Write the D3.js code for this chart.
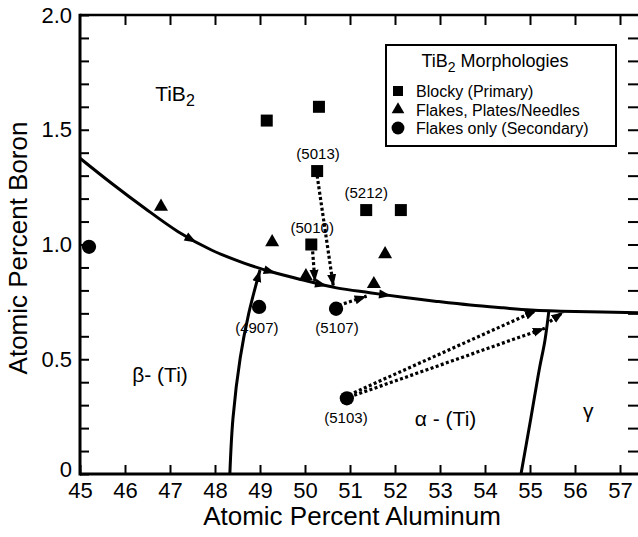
<!DOCTYPE html>
<html><head><meta charset="utf-8">
<script src="https://cdn.jsdelivr.net/npm/d3@7"></script>
<style>
body{margin:0;background:#fff}
svg{display:block}
text{font-family:"Liberation Sans",Arial,Helvetica,sans-serif;fill:#000}
</style>
</head><body>
<svg id="chart" width="638" height="537"></svg>
<script>
// ---------- data ----------
const xTicks = d3.range(45, 58);
const yMajorTicks = [0, 0.5, 1.0, 1.5, 2.0];
const yTickLabels = ["0", "0.5", "1.0", "1.5", "2.0"];
const yMinorTicks = d3.range(1, 20).map(i => i / 10);

const blocky = [[49.15, 1.54], [50.31, 1.60], [50.27, 1.32], [50.14, 1.00], [51.36, 1.15], [52.13, 1.15]];
const flakesPlates = [[46.8, 1.165], [49.27, 1.01], [50.02, 0.862], [51.78, 0.958], [51.53, 0.828]];
const flakesOnly = [[45.2, 0.99], [48.98, 0.728], [50.69, 0.72], [50.93, 0.33]];

const liquidus = [[45.0, 1.376], [45.70, 1.267], [46.44, 1.158], [47.18, 1.056], [47.92, 0.976], [48.66, 0.918],
  [49.25, 0.881], [49.96, 0.845], [50.70, 0.811], [51.44, 0.790], [52.18, 0.770], [52.93, 0.752],
  [53.67, 0.736], [54.40, 0.724], [55.02, 0.715], [56.0, 0.708], [57.4, 0.703]];
const betaAlpha = [[48.33, 0], [48.40, 0.244], [48.56, 0.505], [48.75, 0.70], [49.0, 0.889]];
const alphaGamma = [[54.8, 0], [55.02, 0.244], [55.21, 0.46], [55.33, 0.58], [55.42, 0.712]];
const liquidusArrowX = [47.47, 49.22, 50.36, 51.78];

const dottedArrows = [
  [[50.27, 1.30], [50.63, 0.818]],
  [[50.17, 0.97], [50.22, 0.838]],
  [[50.75, 0.735], [51.37, 0.775]],
  [[50.98, 0.345], [55.15, 0.713]],
  [[50.98, 0.335], [55.33, 0.635]],
  [[55.44, 0.664], [55.74, 0.705]]
];

const sampleLabels = ["(5013)", "(5010)", "(5212)", "(4907)", "(5107)", "(5103)"];
const sampleLabelPos = [[50.29, 1.373], [50.16, 1.05], [51.36, 1.203], [48.93, 0.614], [50.71, 0.614], [50.91, 0.222]];

const legendTitle = "Morphologies";
const legendItems = ["Blocky (Primary)", "Flakes, Plates/Needles", "Flakes only (Secondary)"];

// ---------- scales ----------
const svg = d3.select("#chart");
const x = d3.scaleLinear().domain([45, 57.4]).range([80, 638]);
const y = d3.scaleLinear().domain([0, 2]).range([474, 15]);

// ---------- markers ----------
const defs = svg.append("defs");
defs.append("marker").attr("id", "arrSolid").attr("markerUnits", "userSpaceOnUse")
  .attr("viewBox", "0 -5 12 10").attr("refX", 12).attr("refY", 0)
  .attr("markerWidth", 12).attr("markerHeight", 10).attr("orient", "auto")
  .append("path").attr("d", "M0,-4.5L12,0L0,4.5Z").attr("fill", "#000");
defs.append("marker").attr("id", "arrDot").attr("markerUnits", "userSpaceOnUse")
  .attr("viewBox", "0 -5 12 10").attr("refX", 12).attr("refY", 0)
  .attr("markerWidth", 12).attr("markerHeight", 10).attr("orient", "auto")
  .append("path").attr("d", "M0,-4.5L12,0L0,4.5Z").attr("fill", "#000");

// ---------- axes ----------
const axisG = svg.append("g");
const gBottom = axisG.append("g").attr("transform", `translate(0,${y(0)})`)
  .call(d3.axisBottom(x).tickValues(xTicks).tickSize(-9).tickPadding(8).tickFormat(d3.format("d")));
const gTop = axisG.append("g").attr("transform", `translate(0,${y(2)})`)
  .call(d3.axisTop(x).tickValues(xTicks.slice(1)).tickSize(-10).tickFormat(""));
const gLeft = axisG.append("g").attr("transform", `translate(${x(45)},0)`)
  .call(d3.axisLeft(y).tickValues(yMajorTicks).tickSize(-9).tickPadding(8)
    .tickFormat((d, i) => yTickLabels[i]));
const gLeftMinor = axisG.append("g").attr("transform", `translate(${x(45)},0)`)
  .call(d3.axisLeft(y).tickValues(yMinorTicks.filter(v => Math.abs(v * 2 - Math.round(v * 2)) > 1e-6))
    .tickSize(-9).tickFormat(""));
const gRight = axisG.append("g").attr("transform", `translate(${x(57.4)},0)`)
  .call(d3.axisRight(y).tickValues(yMinorTicks).tickSize(-10).tickFormat(""));
[gBottom, gTop, gLeft, gLeftMinor, gRight].forEach(g => {
  g.selectAll(".domain").remove();
  g.selectAll(".tick line").attr("stroke", "#000").attr("stroke-width", 2);
  g.selectAll("text").style("font-size", "22px").attr("fill", "#000");
});
// lift the "0" label slightly, as in the reference
gLeft.selectAll(".tick text").filter(d => d === 0).attr("dy", "0.1em");
// frame lines
axisG.append("line").attr("x1", x(45)).attr("x2", x(57.4)).attr("y1", y(0)).attr("y2", y(0))
  .attr("stroke", "#000").attr("stroke-width", 3);
axisG.append("line").attr("x1", x(45)).attr("x2", x(57.4)).attr("y1", y(2)).attr("y2", y(2))
  .attr("stroke", "#000").attr("stroke-width", 2.5);
axisG.append("line").attr("x1", x(45)).attr("x2", x(45)).attr("y1", y(0) + 1.5).attr("y2", y(2) - 1.2)
  .attr("stroke", "#000").attr("stroke-width", 3);

// axis titles
svg.append("text").attr("x", 352).attr("y", 525).attr("text-anchor", "middle")
  .style("font-size", "26px").text("Atomic Percent Aluminum");
svg.append("text").attr("transform", "translate(27,248) rotate(-90)").attr("text-anchor", "middle")
  .style("font-size", "26px").text("Atomic Percent Boron");

// ---------- phase boundaries ----------
const line = d3.line().x(d => x(d[0])).y(d => y(d[1])).curve(d3.curveCatmullRom.alpha(0.5));
const liqPath = svg.append("path").attr("d", line(liquidus)).attr("fill", "none")
  .attr("stroke", "#000").attr("stroke-width", 3);
svg.append("path").attr("d", line(betaAlpha)).attr("fill", "none")
  .attr("stroke", "#000").attr("stroke-width", 3).attr("marker-end", "url(#arrSolid)");
svg.append("path").attr("d", line(alphaGamma)).attr("fill", "none")
  .attr("stroke", "#000").attr("stroke-width", 3);

// arrowheads along liquidus
const node = liqPath.node();
const total = node.getTotalLength();
function lengthAtX(px) {
  let lo = 0, hi = total;
  for (let k = 0; k < 40; k++) {
    const mid = (lo + hi) / 2;
    if (node.getPointAtLength(mid).x < px) lo = mid; else hi = mid;
  }
  return (lo + hi) / 2;
}
liquidusArrowX.forEach(ax => {
  const L = lengthAtX(x(ax));
  const p = node.getPointAtLength(L);
  const p1 = node.getPointAtLength(Math.max(0, L - 2));
  const p2 = node.getPointAtLength(Math.min(total, L + 2));
  const ang = Math.atan2(p2.y - p1.y, p2.x - p1.x) * 180 / Math.PI;
  svg.append("path").attr("d", "M6,0L-6,-4.5L-6,4.5Z").attr("fill", "#000")
    .attr("transform", `translate(${p.x},${p.y}) rotate(${ang})`);
});

// ---------- dotted arrows ----------
dottedArrows.forEach(a => {
  svg.append("line").attr("x1", x(a[0][0])).attr("y1", y(a[0][1]))
    .attr("x2", x(a[1][0])).attr("y2", y(a[1][1]))
    .attr("stroke", "#000").attr("stroke-width", 3.2).attr("stroke-dasharray", "3,2.4")
    .attr("marker-end", "url(#arrDot)");
});

// ---------- points ----------
const sq = d3.symbol().type(d3.symbolSquare).size(144);
const tri = d3.symbol().type(d3.symbolTriangle).size(85);
const cir = d3.symbol().type(d3.symbolCircle).size(160);
svg.append("g").selectAll("path").data(blocky).join("path")
  .attr("d", sq).attr("transform", d => `translate(${x(d[0])},${y(d[1])})`).attr("fill", "#000");
svg.append("g").selectAll("path").data(flakesPlates).join("path")
  .attr("d", tri).attr("transform", d => `translate(${x(d[0])},${y(d[1])})`).attr("fill", "#000");
svg.append("g").selectAll("path").data(flakesOnly).join("path")
  .attr("d", cir).attr("transform", d => `translate(${x(d[0])},${y(d[1])})`).attr("fill", "#000");

// sample labels
svg.append("g").selectAll("text").data(sampleLabels).join("text")
  .attr("x", (d, i) => x(sampleLabelPos[i][0])).attr("y", (d, i) => y(sampleLabelPos[i][1]))
  .attr("text-anchor", "middle").style("font-size", "15px").text(d => d);

// region labels
const tib = svg.append("text").attr("x", x(46.67)).attr("y", y(1.625)).style("font-size", "21px");
tib.append("tspan").text("TiB");
tib.append("tspan").attr("dy", 5).style("font-size", "16px").text("2");
svg.append("text").attr("x", x(46.16)).attr("y", y(0.40)).style("font-size", "21px").text("β- (Ti)");
svg.append("text").attr("x", x(52.44)).attr("y", y(0.209)).style("font-size", "21px").text("α - (Ti)");
svg.append("text").attr("x", x(56.18)).attr("y", y(0.244)).style("font-size", "21px").text("γ");

// ---------- legend ----------
const lg = svg.append("g");
lg.append("rect").attr("x", 386).attr("y", 45).attr("width", 230).attr("height", 101)
  .attr("fill", "#fff").attr("stroke", "#000").attr("stroke-width", 2);
const lt = lg.append("text").attr("x", 495).attr("y", 67).attr("text-anchor", "middle").style("font-size", "18px");
lt.append("tspan").text("TiB");
lt.append("tspan").attr("dy", 5).style("font-size", "14px").text("2");
lt.append("tspan").attr("dy", -5).text(" " + legendTitle);
const legSyms = [d3.symbol().type(d3.symbolSquare).size(100), d3.symbol().type(d3.symbolTriangle).size(70), d3.symbol().type(d3.symbolCircle).size(130)];
legendItems.forEach((t, i) => {
  lg.append("path").attr("d", legSyms[i]).attr("transform", `translate(398,${91 + i * 18.5})`).attr("fill", "#000");
  lg.append("text").attr("x", 416).attr("y", 97 + i * 18.5).style("font-size", "16px").text(t);
});
</script>
</body></html>
